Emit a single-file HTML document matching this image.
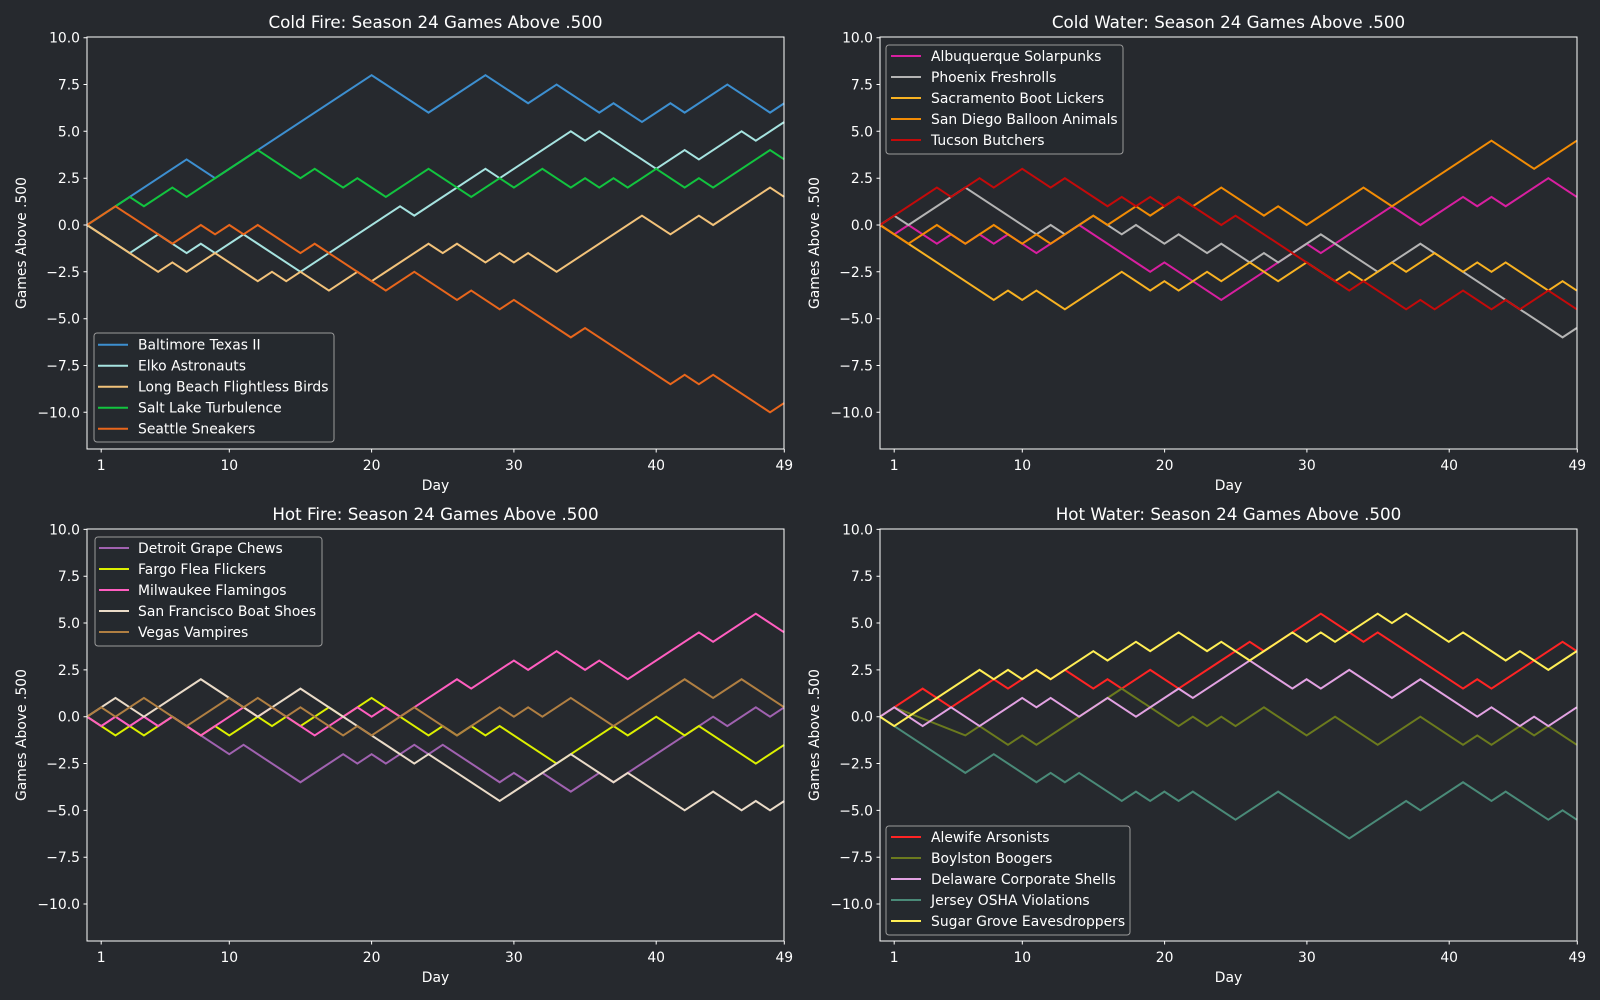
<!DOCTYPE html>
<html><head><meta charset="utf-8"><style>
html,body{margin:0;padding:0;background:#26292e;}
svg{display:block;font-family:"DejaVu Sans","Liberation Sans",sans-serif;}
.t{fill:#ffffff;font-size:13.9px;}
.ti{fill:#ffffff;font-size:16.7px;}
.s{fill:none;stroke-width:2;vector-effect:non-scaling-stroke;stroke-linejoin:miter;}
.ax{fill:none;stroke:#ffffff;stroke-width:1;}
.lg{fill:#26292e;fill-opacity:0.85;stroke:#9a9a9a;stroke-width:1;}
</style></head><body>
<svg width="1600" height="1000" viewBox="0 0 1600 1000" xmlns="http://www.w3.org/2000/svg">
<rect width="1600" height="1000" fill="#26292e"/>

<!-- ===== Panel TL ===== -->
<g>
<text class="ti" x="435.5" y="28" text-anchor="middle">Cold Fire: Season 24 Games Above .500</text>
<g transform="translate(87,225) scale(14.23,-18.73)">
<polyline class="s" stroke="#3d8fd0" points="0,0 7,3.5 9,2.5 20,8 24,6 28,8 31,6.5 33,7.5 36,6 37,6.5 39,5.5 41,6.5 42,6 45,7.5 48,6 49,6.5"/>
<polyline class="s" stroke="#a6e3e0" points="0,0 3,-1.5 5,-0.5 7,-1.5 8,-1 9,-1.5 11,-0.5 15,-2.5 22,1 23,0.5 24,1 28,3 29,2.5 34,5 35,4.5 36,5 40,3 42,4 43,3.5 46,5 47,4.5 49,5.5"/>
<polyline class="s" stroke="#f2c27a" points="0,0 5,-2.5 6,-2 7,-2.5 9,-1.5 12,-3 13,-2.5 14,-3 15,-2.5 17,-3.5 19,-2.5 20,-3 24,-1 25,-1.5 26,-1 28,-2 29,-1.5 30,-2 31,-1.5 33,-2.5 39,0.5 41,-0.5 43,0.5 44,0 48,2 49,1.5"/>
<polyline class="s" stroke="#12c43f" points="0,0 3,1.5 4,1 6,2 7,1.5 12,4 15,2.5 16,3 18,2 19,2.5 21,1.5 24,3 27,1.5 29,2.5 30,2 32,3 34,2 35,2.5 36,2 37,2.5 38,2 40,3 42,2 43,2.5 44,2 48,4 49,3.5"/>
<polyline class="s" stroke="#e8661c" points="0,0 2,1 6,-1 8,0 9,-0.5 10,0 11,-0.5 12,0 15,-1.5 16,-1 21,-3.5 23,-2.5 24,-3 26,-4 27,-3.5 29,-4.5 30,-4 34,-6 35,-5.5 41,-8.5 42,-8 43,-8.5 44,-8 48,-10 49,-9.5"/>
</g>
<rect class="ax" x="87" y="37" width="697" height="412"/>
<path stroke="#fff" stroke-width="1" d="M83.5,37.7H87M83.5,84.5H87M83.5,131.3H87M83.5,178.2H87M83.5,225H87M83.5,271.8H87M83.5,318.7H87M83.5,365.5H87M83.5,412.3H87M101.2,449V452.5M229.3,449V452.5M371.6,449V452.5M513.9,449V452.5M656.2,449V452.5M784.3,449V452.5"/>
<g class="t" text-anchor="end">
<text x="80" y="42.7">10.0</text><text x="80" y="89.5">7.5</text><text x="80" y="136.3">5.0</text><text x="80" y="183.2">2.5</text><text x="80" y="230">0.0</text><text x="80" y="276.8">−2.5</text><text x="80" y="323.7">−5.0</text><text x="80" y="370.5">−7.5</text><text x="80" y="417.3">−10.0</text>
</g>
<g class="t" text-anchor="middle">
<text x="101.2" y="470">1</text><text x="229.3" y="470">10</text><text x="371.6" y="470">20</text><text x="513.9" y="470">30</text><text x="656.2" y="470">40</text><text x="784.3" y="470">49</text>
<text x="435.5" y="490">Day</text>
<text transform="translate(26,243) rotate(-90)">Games Above .500</text>
</g>
<rect class="lg" x="94" y="333" width="240" height="109" rx="3"/>
<path class="s" stroke="#3d8fd0" d="M98,344.7H128"/><path class="s" stroke="#a6e3e0" d="M98,365.7H128"/><path class="s" stroke="#f2c27a" d="M98,386.7H128"/><path class="s" stroke="#12c43f" d="M98,407.7H128"/><path class="s" stroke="#e8661c" d="M98,428.7H128"/>
<g class="t"><text x="138" y="349.5">Baltimore Texas II</text><text x="138" y="370.5">Elko Astronauts</text><text x="138" y="391.5">Long Beach Flightless Birds</text><text x="138" y="412.5">Salt Lake Turbulence</text><text x="138" y="433.5">Seattle Sneakers</text></g>
</g>

<!-- ===== Panel TR ===== -->
<g>
<text class="ti" x="1228.5" y="28" text-anchor="middle">Cold Water: Season 24 Games Above .500</text>
<g transform="translate(880,225) scale(14.22,-18.73)">
<polyline class="s" stroke="#d81fa0" points="0,0 1,-0.5 2,0 4,-1 5,-0.5 6,-1 7,-0.5 8,-1 9,-0.5 11,-1.5 12,-1 14,0 19,-2.5 20,-2 24,-4 30,-1 31,-1.5 36,1 38,0 41,1.5 42,1 43,1.5 44,1 47,2.5 49,1.5"/>
<polyline class="s" stroke="#b4b4b4" points="0,0 1,0.5 2,0 6,2 11,-0.5 12,0 13,-0.5 15,0.5 17,-0.5 18,0 20,-1 21,-0.5 23,-1.5 24,-1 26,-2 27,-1.5 28,-2 31,-0.5 35,-2.5 38,-1 48,-6 49,-5.5"/>
<polyline class="s" stroke="#f8b222" points="0,0 2,-1 8,-4 9,-3.5 10,-4 11,-3.5 13,-4.5 17,-2.5 19,-3.5 20,-3 21,-3.5 23,-2.5 24,-3 26,-2 28,-3 30,-2 32,-3 33,-2.5 34,-3 36,-2 37,-2.5 39,-1.5 41,-2.5 42,-2 43,-2.5 44,-2 47,-3.5 48,-3 49,-3.5"/>
<polyline class="s" stroke="#f28c05" points="0,0 2,-1 4,0 6,-1 8,0 10,-1 11,-0.5 12,-1 15,0.5 16,0 18,1 19,0.5 20,1 21,1.5 22,1 24,2 27,0.5 28,1 30,0 34,2 36,1 43,4.5 46,3 49,4.5"/>
<polyline class="s" stroke="#c40a0a" points="0,0 4,2 5,1.5 7,2.5 8,2 10,3 12,2 13,2.5 16,1 17,1.5 18,1 19,1.5 20,1 21,1.5 24,0 25,0.5 33,-3.5 34,-3 37,-4.5 38,-4 39,-4.5 41,-3.5 43,-4.5 44,-4 45,-4.5 47,-3.5 49,-4.5"/>
</g>
<rect class="ax" x="880" y="37" width="697" height="412"/>
<path stroke="#fff" stroke-width="1" d="M876.5,37.7H880M876.5,84.5H880M876.5,131.3H880M876.5,178.2H880M876.5,225H880M876.5,271.8H880M876.5,318.7H880M876.5,365.5H880M876.5,412.3H880M894.2,449V452.5M1022.3,449V452.5M1164.6,449V452.5M1306.9,449V452.5M1449.2,449V452.5M1577.3,449V452.5"/>
<g class="t" text-anchor="end">
<text x="873" y="42.7">10.0</text><text x="873" y="89.5">7.5</text><text x="873" y="136.3">5.0</text><text x="873" y="183.2">2.5</text><text x="873" y="230">0.0</text><text x="873" y="276.8">−2.5</text><text x="873" y="323.7">−5.0</text><text x="873" y="370.5">−7.5</text><text x="873" y="417.3">−10.0</text>
</g>
<g class="t" text-anchor="middle">
<text x="894.2" y="470">1</text><text x="1022.3" y="470">10</text><text x="1164.6" y="470">20</text><text x="1306.9" y="470">30</text><text x="1449.2" y="470">40</text><text x="1577.3" y="470">49</text>
<text x="1228.5" y="490">Day</text>
<text transform="translate(819,243) rotate(-90)">Games Above .500</text>
</g>
<rect class="lg" x="886" y="45" width="237" height="109" rx="3"/>
<path class="s" stroke="#d81fa0" d="M891,56H921"/><path class="s" stroke="#b4b4b4" d="M891,77H921"/><path class="s" stroke="#f8b222" d="M891,98H921"/><path class="s" stroke="#f28c05" d="M891,119H921"/><path class="s" stroke="#c40a0a" d="M891,140H921"/>
<g class="t"><text x="931" y="60.8">Albuquerque Solarpunks</text><text x="931" y="81.8">Phoenix Freshrolls</text><text x="931" y="102.8">Sacramento Boot Lickers</text><text x="931" y="123.8">San Diego Balloon Animals</text><text x="931" y="144.8">Tucson Butchers</text></g>
</g>

<!-- ===== Panel BL ===== -->
<g>
<text class="ti" x="435.5" y="520" text-anchor="middle">Hot Fire: Season 24 Games Above .500</text>
<g transform="translate(87,716.7) scale(14.23,-18.73)">
<polyline class="s" stroke="#a062b0" points="0,0 1,-0.5 2,0 3,-0.5 4,0 5,-0.5 6,0 7,-0.5 10,-2 11,-1.5 15,-3.5 18,-2 19,-2.5 20,-2 21,-2.5 23,-1.5 24,-2 25,-1.5 29,-3.5 30,-3 31,-3.5 32,-3 34,-4 36,-3 37,-3.5 38,-3 42,-1 43,-0.5 44,0 45,-0.5 47,0.5 48,0 49,0.5"/>
<polyline class="s" stroke="#dcf000" points="0,0 1,-0.5 2,-1 3,-0.5 4,-1 6,0 7,-0.5 8,-1 9,-0.5 10,-1 12,0 13,-0.5 14,0 15,-0.5 17,0.5 18,0 20,1 22,0 24,-1 25,-0.5 26,-1 27,-0.5 28,-1 29,-0.5 33,-2.5 37,-0.5 38,-1 40,0 42,-1 43,-0.5 47,-2.5 49,-1.5"/>
<polyline class="s" stroke="#ff5ec0" points="0,0 1,-0.5 2,0 3,-0.5 4,0 5,-0.5 6,0 7,-0.5 8,-1 11,0.5 12,0 13,0.5 15,-0.5 16,-1 19,0.5 20,0 21,0.5 22,0 24,1 26,2 27,1.5 30,3 31,2.5 33,3.5 35,2.5 36,3 38,2 43,4.5 44,4 47,5.5 49,4.5"/>
<polyline class="s" stroke="#eadbc8" points="0,0 2,1 4,0 8,2 12,0 15,1.5 23,-2.5 24,-2 29,-4.5 34,-2 37,-3.5 38,-3 42,-5 44,-4 46,-5 47,-4.5 48,-5 49,-4.5"/>
<polyline class="s" stroke="#b07f42" points="0,0 1,0.5 2,0 4,1 7,-0.5 10,1 11,0.5 12,1 14,0 15,0.5 18,-1 19,-0.5 20,-1 23,0.5 24,0 26,-1 29,0.5 30,0 31,0.5 32,0 34,1 37,-0.5 42,2 44,1 46,2 49,0.5"/>
</g>
<rect class="ax" x="87" y="529" width="697" height="412"/>
<path stroke="#fff" stroke-width="1" d="M83.5,529.4H87M83.5,576.2H87M83.5,623H87M83.5,669.9H87M83.5,716.7H87M83.5,763.5H87M83.5,810.4H87M83.5,857.2H87M83.5,904H87M101.2,941V944.5M229.3,941V944.5M371.6,941V944.5M513.9,941V944.5M656.2,941V944.5M784.3,941V944.5"/>
<g class="t" text-anchor="end">
<text x="80" y="534.4">10.0</text><text x="80" y="581.2">7.5</text><text x="80" y="628">5.0</text><text x="80" y="674.9">2.5</text><text x="80" y="721.7">0.0</text><text x="80" y="768.5">−2.5</text><text x="80" y="815.4">−5.0</text><text x="80" y="862.2">−7.5</text><text x="80" y="909">−10.0</text>
</g>
<g class="t" text-anchor="middle">
<text x="101.2" y="962">1</text><text x="229.3" y="962">10</text><text x="371.6" y="962">20</text><text x="513.9" y="962">30</text><text x="656.2" y="962">40</text><text x="784.3" y="962">49</text>
<text x="435.5" y="982">Day</text>
<text transform="translate(26,735) rotate(-90)">Games Above .500</text>
</g>
<rect class="lg" x="95" y="537" width="227" height="109" rx="3"/>
<path class="s" stroke="#a062b0" d="M99,548H129"/><path class="s" stroke="#dcf000" d="M99,569H129"/><path class="s" stroke="#ff5ec0" d="M99,590H129"/><path class="s" stroke="#eadbc8" d="M99,611H129"/><path class="s" stroke="#b07f42" d="M99,632H129"/>
<g class="t"><text x="138" y="552.8">Detroit Grape Chews</text><text x="138" y="573.8">Fargo Flea Flickers</text><text x="138" y="594.8">Milwaukee Flamingos</text><text x="138" y="615.8">San Francisco Boat Shoes</text><text x="138" y="636.8">Vegas Vampires</text></g>
</g>

<!-- ===== Panel BR ===== -->
<g>
<text class="ti" x="1228.5" y="520" text-anchor="middle">Hot Water: Season 24 Games Above .500</text>
<g transform="translate(880,716.7) scale(14.22,-18.73)">
<polyline class="s" stroke="#ff2424" points="0,0 3,1.5 5,0.5 8,2 9,1.5 10,2 11,2.5 12,2 13,2.5 15,1.5 16,2 17,1.5 19,2.5 21,1.5 24,3 26,4 27,3.5 31,5.5 34,4 35,4.5 41,1.5 42,2 43,1.5 48,4 49,3.5"/>
<polyline class="s" stroke="#6b7a1e" points="0,0 1,0.5 6,-1 7,-0.5 9,-1.5 10,-1 11,-1.5 17,1.5 21,-0.5 22,0 23,-0.5 24,0 25,-0.5 27,0.5 30,-1 32,0 35,-1.5 38,0 41,-1.5 42,-1 43,-1.5 45,-0.5 46,-1 47,-0.5 49,-1.5"/>
<polyline class="s" stroke="#e2a2e2" points="0,0 1,0.5 3,-0.5 5,0.5 7,-0.5 10,1 11,0.5 12,1 14,0 16,1 18,0 21,1.5 22,1 26,3 29,1.5 30,2 31,1.5 33,2.5 36,1 38,2 42,0 43,0.5 45,-0.5 46,0 47,-0.5 49,0.5"/>
<polyline class="s" stroke="#4a8a78" points="0,0 1,-0.5 6,-3 8,-2 11,-3.5 12,-3 13,-3.5 14,-3 17,-4.5 18,-4 19,-4.5 20,-4 21,-4.5 22,-4 25,-5.5 28,-4 33,-6.5 37,-4.5 38,-5 41,-3.5 43,-4.5 44,-4 47,-5.5 48,-5 49,-5.5"/>
<polyline class="s" stroke="#ffee55" points="0,0 1,-0.5 7,2.5 8,2 9,2.5 10,2 11,2.5 12,2 15,3.5 16,3 18,4 19,3.5 21,4.5 23,3.5 24,4 26,3 29,4.5 30,4 31,4.5 32,4 35,5.5 36,5 37,5.5 40,4 41,4.5 44,3 45,3.5 47,2.5 49,3.5"/>
</g>
<rect class="ax" x="880" y="529" width="697" height="412"/>
<path stroke="#fff" stroke-width="1" d="M876.5,529.4H880M876.5,576.2H880M876.5,623H880M876.5,669.9H880M876.5,716.7H880M876.5,763.5H880M876.5,810.4H880M876.5,857.2H880M876.5,904H880M894.2,941V944.5M1022.3,941V944.5M1164.6,941V944.5M1306.9,941V944.5M1449.2,941V944.5M1577.3,941V944.5"/>
<g class="t" text-anchor="end">
<text x="873" y="534.4">10.0</text><text x="873" y="581.2">7.5</text><text x="873" y="628">5.0</text><text x="873" y="674.9">2.5</text><text x="873" y="721.7">0.0</text><text x="873" y="768.5">−2.5</text><text x="873" y="815.4">−5.0</text><text x="873" y="862.2">−7.5</text><text x="873" y="909">−10.0</text>
</g>
<g class="t" text-anchor="middle">
<text x="894.2" y="962">1</text><text x="1022.3" y="962">10</text><text x="1164.6" y="962">20</text><text x="1306.9" y="962">30</text><text x="1449.2" y="962">40</text><text x="1577.3" y="962">49</text>
<text x="1228.5" y="982">Day</text>
<text transform="translate(819,735) rotate(-90)">Games Above .500</text>
</g>
<rect class="lg" x="886" y="826" width="244" height="109" rx="3"/>
<path class="s" stroke="#ff2424" d="M891,837H921"/><path class="s" stroke="#6b7a1e" d="M891,858H921"/><path class="s" stroke="#e2a2e2" d="M891,879H921"/><path class="s" stroke="#4a8a78" d="M891,900H921"/><path class="s" stroke="#ffee55" d="M891,921H921"/>
<g class="t"><text x="931" y="841.8">Alewife Arsonists</text><text x="931" y="862.8">Boylston Boogers</text><text x="931" y="883.8">Delaware Corporate Shells</text><text x="931" y="904.8">Jersey OSHA Violations</text><text x="931" y="925.8">Sugar Grove Eavesdroppers</text></g>
</g>
</svg>
</body></html>
